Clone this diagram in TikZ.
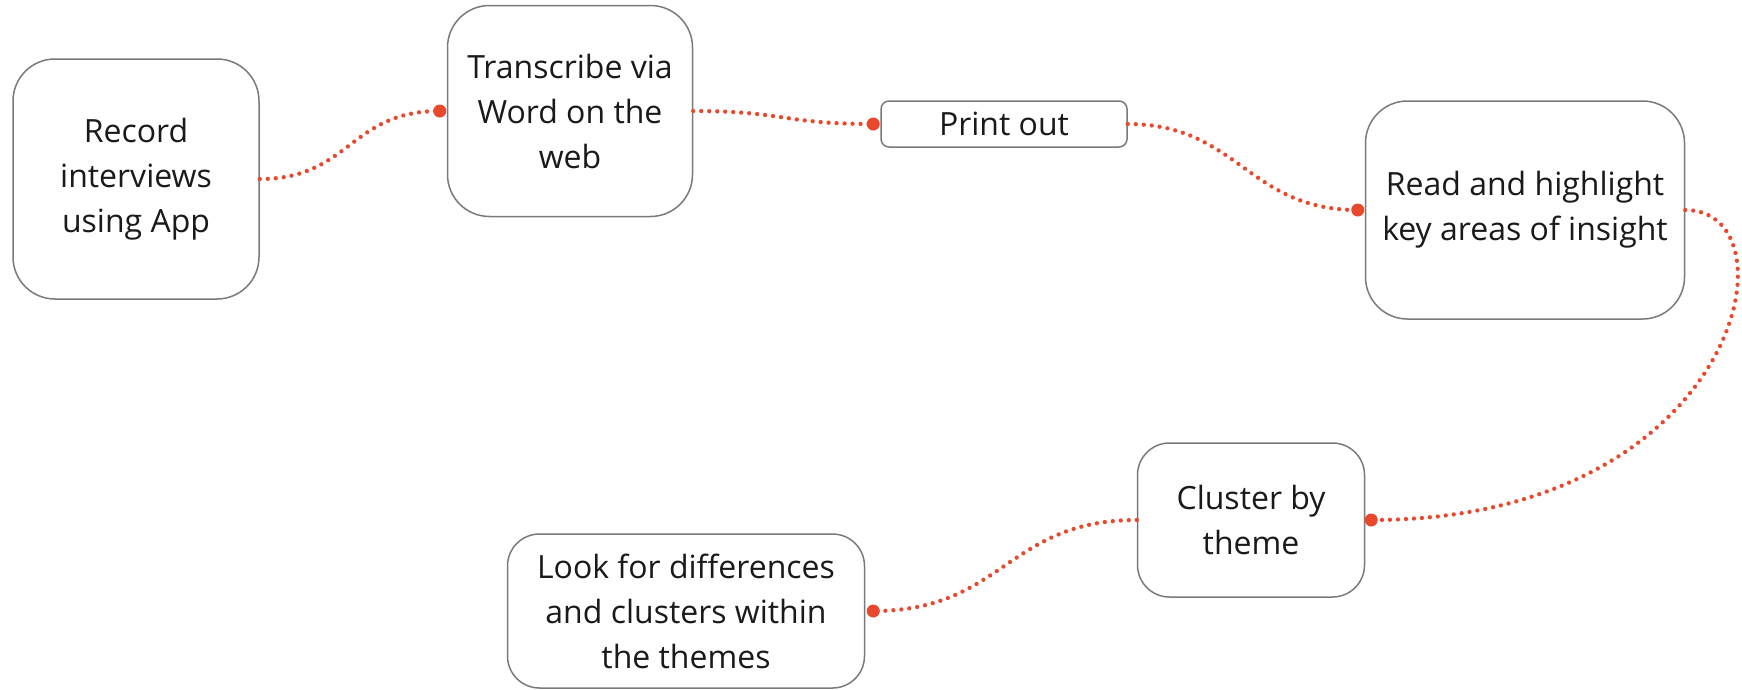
\documentclass[tikz,border=0pt]{standalone}
\usepackage{fontspec}
\setmainfont{Open Sans}
\definecolor{conncol}{HTML}{E8482B}
\definecolor{boxcol}{HTML}{7A7A7A}
\definecolor{txtcol}{HTML}{1A1A1A}
\begin{document}
\begin{tikzpicture}[x=1pt,y=-1pt,
  stepbox/.style={draw=boxcol, line width=1.5pt, fill=white, inner sep=0pt,
    align=center, text=txtcol, font=\fontsize{32}{45}\selectfont},
  conn/.style={draw=conncol, line width=4.3pt, line cap=round, dash pattern=on 0pt off 8pt},
  enddot/.style={fill=conncol, circle, inner sep=0pt, minimum size=13pt}
]
\useasboundingbox (0,0) rectangle (1742,689);
\node[stepbox, minimum width=246pt, minimum height=240pt, rounded corners=42pt] (n1) at (136,179) {Record\\interviews\\using App};
\node[stepbox, minimum width=245pt, minimum height=211pt, rounded corners=42pt] (n2) at (570,111) {Transcribe via\\Word on the\\web};
\node[stepbox, minimum width=246pt, minimum height=46pt, rounded corners=8pt] (n3) at (1004,124) {Print out};
\node[stepbox, minimum width=319pt, minimum height=218pt, rounded corners=42pt] (n4) at (1525,210) {Read and highlight\\key areas of insight};
\node[stepbox, minimum width=227pt, minimum height=154pt, rounded corners=32pt] (n5) at (1251,520) {Cluster by\\theme};
\node[stepbox, minimum width=357pt, minimum height=154pt, rounded corners=32pt] (n6) at (686,611) {Look for differences\\and clusters within\\the themes};
\coordinate (d1) at ([xshift=-7pt]n2.west);
\coordinate (d2) at ([xshift=-7pt]n3.west);
\coordinate (d3) at ([xshift=-7pt]n4.west);
\coordinate (d4) at ([xshift=6pt]n5.east);
\coordinate (d5) at ([xshift=8pt]n6.east);
\draw[conn] (n1.east) .. controls +(90,0) and +(-90,0) .. (d1);
\draw[conn] (n2.east) .. controls +(90,0) and +(-90,0) .. (d2);
\draw[conn] (n3.east) .. controls +(110,0) and +(-110,0) .. (d3);
\draw[conn] (n4.east) .. controls +(115,0) and +(369,0) .. (d4);
\draw[conn] (n5.west) .. controls +(-130,0) and +(130,0) .. (d5);
\node[enddot] (e1) at (d1) {};
\node[enddot] (e2) at (d2) {};
\node[enddot] (e3) at (d3) {};
\node[enddot] (e4) at (d4) {};
\node[enddot] (e5) at (d5) {};
\end{tikzpicture}
\end{document}
